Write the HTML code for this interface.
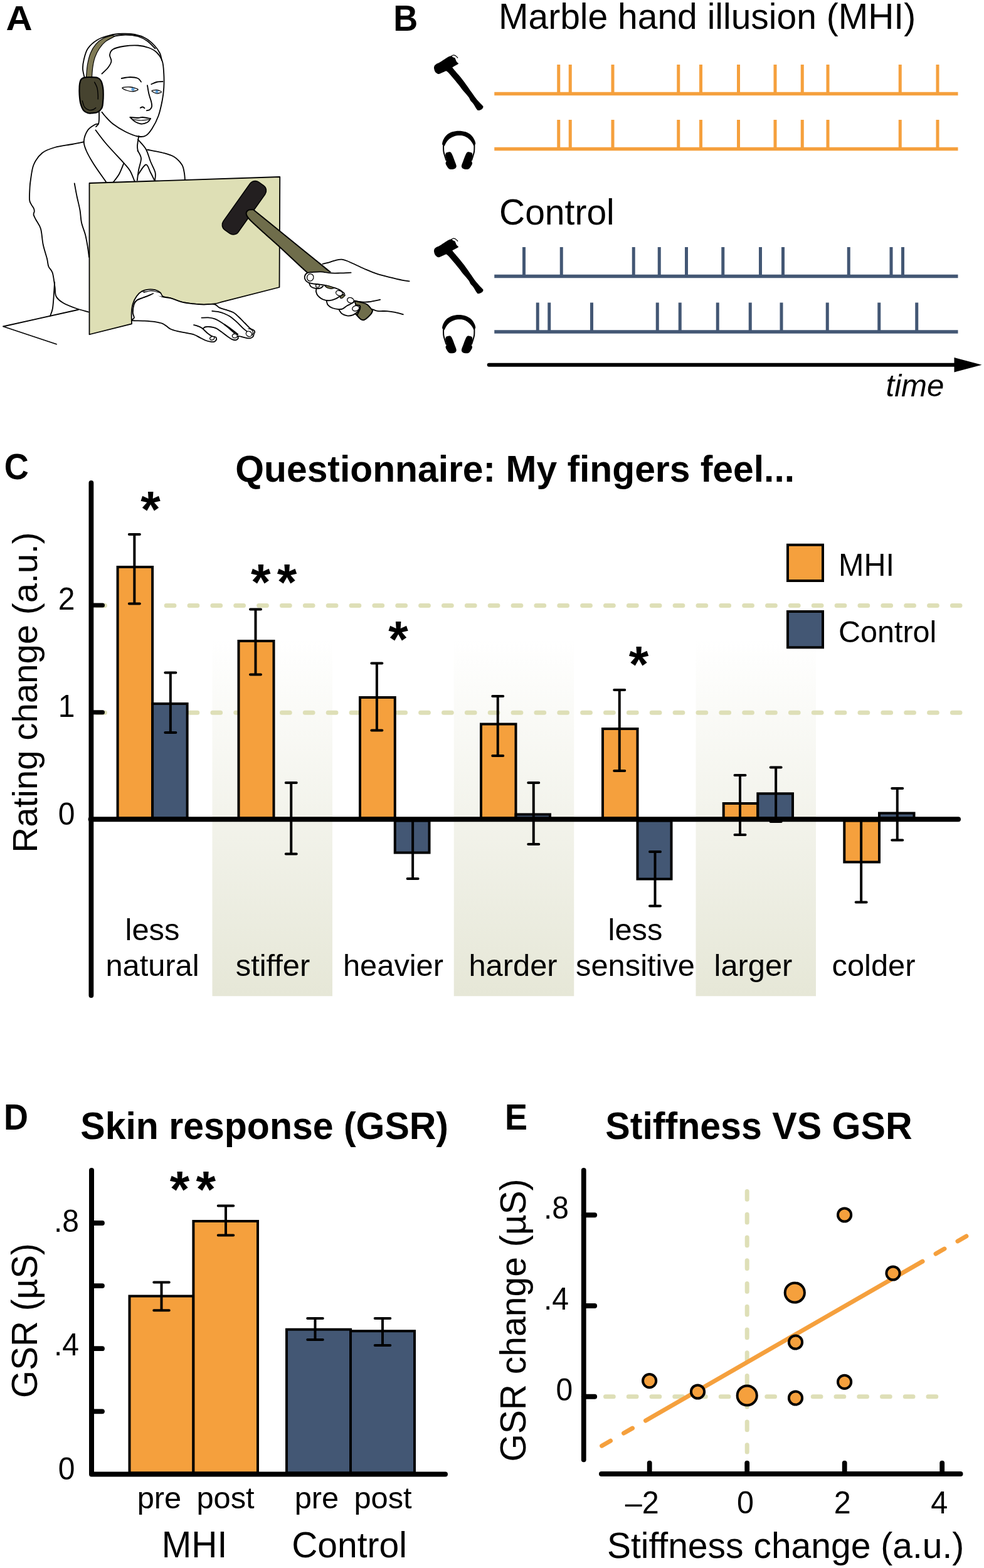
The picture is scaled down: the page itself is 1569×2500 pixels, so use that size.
<!DOCTYPE html>
<html lang="en">
<head>
<meta charset="utf-8">
<title>Marble hand illusion figure</title>
<style>
html,body{margin:0;padding:0;background:#fff;}
body{width:1569px;height:2500px;overflow:hidden;}
svg{display:block;font-family:'Liberation Sans', sans-serif;fill:#000;}
</style>
</head>
<body>
<svg width="1569" height="2500" viewBox="0 0 1569 2500">
<rect width="1569" height="2500" fill="#fff"/>
<text transform="translate(9.5 48.3) scale(1.08 1.03)" font-size="54" font-weight="bold" font-style="normal" text-anchor="start" >A</text>
<text transform="translate(627.2 48.7) scale(1 1.075)" font-size="54" font-weight="bold" font-style="normal" text-anchor="start" >B</text>
<text transform="translate(6.7 763.6) scale(1 1.05)" font-size="54" font-weight="bold" font-style="normal" text-anchor="start" >C</text>
<text transform="translate(6 1800.6) scale(1 1.075)" font-size="54" font-weight="bold" font-style="normal" text-anchor="start" >D</text>
<text transform="translate(805 1800.6) scale(1 1.075)" font-size="54" font-weight="bold" font-style="normal" text-anchor="start" >E</text>
<g id="panelA">
<path d="M125.00 493.75L5.00 520.50L90.00 548.75" fill="none" stroke="#000" stroke-width="1.8" stroke-linecap="round" stroke-linejoin="round"/>
<path d="M133.75 226.25C130.62 226.88 122.71 228.54 115.00 230.00C107.29 231.46 95.42 232.71 87.50 235.00C79.58 237.29 73.12 239.17 67.50 243.75C61.88 248.33 56.88 255.21 53.75 262.50C50.62 269.79 49.79 281.25 48.75 287.50C47.71 293.75 47.77 294.77 47.50 300.00C47.23 305.23 46.71 314.60 47.10 318.90C47.49 323.20 48.70 323.52 49.85 325.82C51.00 328.13 53.18 330.89 54.00 332.75C54.82 334.61 54.81 335.38 54.75 337.00C54.69 338.62 53.17 340.21 53.62 342.50C54.08 344.79 55.60 347.00 57.50 350.75C59.40 354.50 63.12 358.46 65.00 365.00C66.88 371.54 67.08 382.08 68.75 390.00C70.42 397.92 73.54 406.67 75.00 412.50C76.46 418.33 76.04 421.25 77.50 425.00C78.96 428.75 82.08 429.58 83.75 435.00C85.42 440.42 86.54 451.25 87.50 457.50C88.46 463.75 87.42 468.33 89.50 472.50C91.58 476.67 94.92 479.38 100.00 482.50C105.08 485.62 113.12 488.75 120.00 491.25C126.88 493.75 137.71 496.46 141.25 497.50" fill="none" stroke="#000" stroke-width="1.8" stroke-linecap="round" stroke-linejoin="round"/>
<path d="M87.00 450.00C86.75 454.17 86.04 467.92 85.50 475.00C84.96 482.08 84.67 487.71 83.75 492.50C82.83 497.29 80.62 501.88 80.00 503.75" fill="none" stroke="#000" stroke-width="1.8" stroke-linecap="round" stroke-linejoin="round"/>
<path d="M118.75 292.50C119.38 295.83 121.04 305.42 122.50 312.50C123.96 319.58 126.25 327.92 127.50 335.00C128.75 342.08 128.54 348.33 130.00 355.00C131.46 361.67 134.58 368.33 136.25 375.00C137.92 381.67 139.04 389.17 140.00 395.00C140.96 400.83 141.67 407.50 142.00 410.00" fill="none" stroke="#000" stroke-width="1.8" stroke-linecap="round" stroke-linejoin="round"/>
<path d="M235.00 238.75C239.17 239.58 252.92 241.88 260.00 243.75C267.08 245.62 272.50 246.88 277.50 250.00C282.50 253.12 287.29 258.33 290.00 262.50C292.71 266.67 292.92 270.83 293.75 275.00C294.58 279.17 294.79 285.42 295.00 287.50" fill="none" stroke="#000" stroke-width="1.8" stroke-linecap="round" stroke-linejoin="round"/>
<path d="M157.00 197.50C156.04 197.71 154.08 197.08 151.25 198.75C148.42 200.42 142.92 203.12 140.00 207.50C137.08 211.88 134.17 219.58 133.75 225.00C133.33 230.42 134.79 233.75 137.50 240.00C140.21 246.25 144.58 253.96 150.00 262.50C155.42 271.04 166.67 286.46 170.00 291.25" fill="none" stroke="#000" stroke-width="1.8" stroke-linecap="round" stroke-linejoin="round"/>
<path d="M152.50 207.50C155.42 211.25 162.50 221.25 170.00 230.00C177.50 238.75 191.25 252.92 197.50 260.00C203.75 267.08 204.58 267.50 207.50 272.50C210.42 277.50 213.75 287.08 215.00 290.00" fill="none" stroke="#000" stroke-width="1.8" stroke-linecap="round" stroke-linejoin="round"/>
<path d="M197.50 260.00C196.25 262.92 192.92 272.29 190.00 277.50C187.08 282.71 181.67 288.96 180.00 291.25" fill="none" stroke="#000" stroke-width="1.8" stroke-linecap="round" stroke-linejoin="round"/>
<path d="M220.00 222.50C222.08 225.00 229.17 231.67 232.50 237.50C235.83 243.33 237.50 251.25 240.00 257.50C242.50 263.75 246.33 270.00 247.50 275.00C248.67 280.00 247.08 285.42 247.00 287.50" fill="none" stroke="#000" stroke-width="1.8" stroke-linecap="round" stroke-linejoin="round"/>
<path d="M219.50 240.00C220.42 242.08 224.71 247.50 225.00 252.50C225.29 257.50 222.29 264.17 221.25 270.00C220.21 275.83 219.17 284.58 218.75 287.50" fill="none" stroke="#000" stroke-width="1.8" stroke-linecap="round" stroke-linejoin="round"/>
<path d="M220.00 278.75C222.08 276.04 229.17 263.12 232.50 262.50C235.83 261.88 237.71 270.83 240.00 275.00C242.29 279.17 245.21 285.42 246.25 287.50" fill="none" stroke="#000" stroke-width="1.8" stroke-linecap="round" stroke-linejoin="round"/>
<path d="M158.00 178.75C158.00 180.62 158.17 186.88 158.00 190.00C157.83 193.12 157.83 195.50 157.00 197.50C156.17 199.50 153.67 201.25 153.00 202.00" fill="none" stroke="#000" stroke-width="1.8" stroke-linecap="round" stroke-linejoin="round"/>
<path d="M221.25 217.00C220.88 219.58 219.21 228.46 219.00 232.50C218.79 236.54 219.83 239.79 220.00 241.25" fill="none" stroke="#000" stroke-width="1.8" stroke-linecap="round" stroke-linejoin="round"/>
<path d="M162.50 117.50C164.17 115.83 170.00 110.83 172.50 107.50C175.00 104.17 177.08 100.83 177.50 97.50C177.92 94.17 174.58 90.62 175.00 87.50C175.42 84.38 176.25 81.04 180.00 78.75C183.75 76.46 190.83 74.79 197.50 73.75C204.17 72.71 213.33 72.08 220.00 72.50C226.67 72.92 232.50 74.38 237.50 76.25C242.50 78.12 246.46 80.21 250.00 83.75C253.54 87.29 256.88 91.88 258.75 97.50C260.62 103.12 260.83 110.42 261.25 117.50C261.67 124.58 261.67 132.92 261.25 140.00C260.83 147.08 260.21 152.50 258.75 160.00C257.29 167.50 255.21 177.50 252.50 185.00C249.79 192.50 245.83 199.79 242.50 205.00C239.17 210.21 236.25 214.17 232.50 216.25C228.75 218.33 225.42 218.54 220.00 217.50C214.58 216.46 206.67 213.33 200.00 210.00C193.33 206.67 185.42 201.67 180.00 197.50C174.58 193.33 170.42 188.12 167.50 185.00C164.58 181.88 163.33 179.79 162.50 178.75" fill="none" stroke="#000" stroke-width="1.8" stroke-linecap="round" stroke-linejoin="round"/>
<path d="M135.00 125.00C134.50 122.50 132.21 115.00 132.00 110.00C131.79 105.00 132.42 100.42 133.75 95.00C135.08 89.58 136.46 82.71 140.00 77.50C143.54 72.29 149.17 67.29 155.00 63.75C160.83 60.21 168.33 57.92 175.00 56.25C181.67 54.58 188.33 53.96 195.00 53.75C201.67 53.54 208.75 53.75 215.00 55.00C221.25 56.25 227.29 58.33 232.50 61.25C237.71 64.17 242.50 68.54 246.25 72.50C250.00 76.46 253.04 81.04 255.00 85.00C256.96 88.96 257.50 94.38 258.00 96.25" fill="none" stroke="#000" stroke-width="1.8" stroke-linecap="round" stroke-linejoin="round"/>
<path d="M180.00 58.00C183.33 57.58 193.33 55.50 200.00 55.50C206.67 55.50 214.17 56.33 220.00 58.00C225.83 59.67 230.42 62.25 235.00 65.50C239.58 68.75 245.42 75.50 247.50 77.50" fill="none" stroke="#000" stroke-width="1.8" stroke-linecap="round" stroke-linejoin="round"/>
<path d="M137.50 123.00C137.85 119.58 138.42 108.92 139.57 102.50C140.73 96.08 142.25 89.78 144.45 84.45C146.65 79.12 149.30 74.49 152.78 70.55C156.25 66.61 160.88 63.18 165.28 60.83C169.68 58.47 176.86 57.14 179.18 56.40L183.32 57.77C180.78 59.21 172.22 63.11 168.05 66.40C163.88 69.69 161.10 73.33 158.32 77.50C155.55 81.67 153.13 86.54 151.40 91.40C149.67 96.26 148.74 101.41 147.93 106.67C147.11 111.94 146.76 120.28 146.53 123.00Z" fill="#7f7a55" stroke="#000" stroke-width="1.2" stroke-linecap="round" stroke-linejoin="round"/>
<path d="M129.85 126.10C131.01 124.99 132.06 124.11 134.72 123.60C137.39 123.09 142.35 122.98 145.82 123.05C149.30 123.12 153.00 123.05 155.55 124.03C158.10 125.00 159.66 126.24 161.10 128.90C162.54 131.56 163.57 136.30 164.18 140.00C164.78 143.70 164.72 147.40 164.72 151.10C164.72 154.80 164.55 158.75 164.18 162.22C163.80 165.70 163.94 169.17 162.50 171.95C161.06 174.73 158.10 177.51 155.55 178.90C153.00 180.29 149.77 180.05 147.22 180.28C144.68 180.50 142.59 180.97 140.28 180.28C137.96 179.58 135.29 178.65 133.32 176.10C131.36 173.55 129.58 169.17 128.47 165.00C127.37 160.83 126.97 155.73 126.67 151.10C126.38 146.47 126.49 140.70 126.67 137.22C126.86 133.75 127.25 132.13 127.78 130.28C128.30 128.42 128.69 127.21 129.85 126.10Z" fill="#46432f" stroke="#000" stroke-width="2.2" stroke-linecap="round" stroke-linejoin="round"/>
<path d="M150.70 130.97C151.39 132.48 153.92 136.65 154.85 140.00C155.78 143.35 156.02 148.09 156.25 151.10C156.48 154.11 156.25 156.89 156.25 158.05" fill="none" stroke="#000" stroke-width="1.4" stroke-linecap="round" stroke-linejoin="round"/>
<path d="M131.25 160.82C131.83 162.45 132.99 168.12 134.72 170.55C136.46 172.98 139.36 174.73 141.68 175.43C143.99 176.12 146.75 175.30 148.60 174.72C150.45 174.15 152.08 172.41 152.78 171.95" fill="none" stroke="#000" stroke-width="1.4" stroke-linecap="round" stroke-linejoin="round"/>
<path d="M193.75 125.00C196.04 124.67 203.12 123.00 207.50 123.00C211.88 123.00 217.08 123.75 220.00 125.00C222.92 126.25 224.17 129.58 225.00 130.50" fill="none" stroke="#000" stroke-width="1.8" stroke-linecap="round" stroke-linejoin="round"/>
<path d="M241.25 134.25C242.71 133.67 246.96 131.46 250.00 130.75C253.04 130.04 257.92 130.12 259.50 130.00" fill="none" stroke="#000" stroke-width="1.8" stroke-linecap="round" stroke-linejoin="round"/>
<path d="M195.00 140.00C195.83 139.08 203.33 138.33 207.50 138.75C211.67 139.17 219.17 141.33 220.00 142.50C220.83 143.67 215.42 145.46 212.50 145.75C209.58 146.04 205.42 145.21 202.50 144.25C199.58 143.29 194.17 140.92 195.00 140.00Z" fill="#fff" stroke="#000" stroke-width="1.3" stroke-linecap="round" stroke-linejoin="round"/>
<circle cx="212.0" cy="142.25" r="2.6" fill="#5b9bd5"/>
<path d="M242.00 145.00C242.00 144.08 247.42 143.25 250.00 143.50C252.58 143.75 257.50 145.58 257.50 146.50C257.50 147.42 252.58 149.25 250.00 149.00C247.42 148.75 242.00 145.92 242.00 145.00Z" fill="#fff" stroke="#000" stroke-width="1.3" stroke-linecap="round" stroke-linejoin="round"/>
<circle cx="250.0" cy="146.25" r="2.4" fill="#5b9bd5"/>
<path d="M235.00 136.25C235.42 138.54 236.46 145.62 237.50 150.00C238.54 154.38 240.50 159.17 241.25 162.50C242.00 165.83 242.42 167.92 242.00 170.00C241.58 172.08 240.12 173.96 238.75 175.00C237.38 176.04 234.58 176.04 233.75 176.25" fill="none" stroke="#000" stroke-width="1.8" stroke-linecap="round" stroke-linejoin="round"/>
<path d="M223.75 172.00C224.38 171.75 226.38 170.42 227.50 170.50C228.62 170.58 230.00 172.17 230.50 172.50" fill="none" stroke="#000" stroke-width="1.8" stroke-linecap="round" stroke-linejoin="round"/>
<path d="M207.50 187.00C209.58 187.17 216.67 188.00 220.00 188.00C223.33 188.00 224.17 186.79 227.50 187.00C230.83 187.21 237.92 188.88 240.00 189.25" fill="none" stroke="#000" stroke-width="1.8" stroke-linecap="round" stroke-linejoin="round"/>
<path d="M207.50 187.00C208.75 188.12 212.08 192.00 215.00 193.75C217.92 195.50 221.67 197.29 225.00 197.50C228.33 197.71 232.50 196.38 235.00 195.00C237.50 193.62 239.17 190.21 240.00 189.25" fill="none" stroke="#000" stroke-width="1.8" stroke-linecap="round" stroke-linejoin="round"/>
<path d="M212.50 190.50C214.58 190.75 220.83 192.00 225.00 192.00C229.17 192.00 235.42 190.75 237.50 190.50" fill="none" stroke="#000" stroke-width="1.2" stroke-linecap="round" stroke-linejoin="round"/>
<path d="M142.50 292.00L446.25 282.00L445.50 458.00L352.78 481.67C350.93 482.13 346.30 483.80 341.67 484.44C337.04 485.09 330.56 485.56 325.00 485.56C319.44 485.56 314.12 485.09 308.33 484.44C302.55 483.80 296.30 483.17 290.28 481.67C284.26 480.16 277.31 476.92 272.22 475.42C267.13 473.91 262.50 474.14 259.72 472.64C256.94 471.13 257.64 468.12 255.56 466.39C253.47 464.65 250.46 463.03 247.22 462.22C243.98 461.41 239.58 461.18 236.11 461.53C232.64 461.88 229.40 462.57 226.39 464.31C223.38 466.04 220.49 468.59 218.06 471.94C215.62 475.30 213.19 480.05 211.81 484.44C210.42 488.84 210.02 493.01 209.72 498.33C209.42 503.66 209.95 513.38 210.00 516.39L142.50 533.25Z" fill="#dedfb5" stroke="#000" stroke-width="1.8" stroke-linecap="round" stroke-linejoin="round"/>
<path d="M210.42 510.83C212.73 511.64 221.88 511.18 227.78 511.53C233.68 511.88 240.74 512.22 245.83 512.92C250.93 513.61 255.09 514.54 258.33 515.69C261.57 516.85 262.96 518.36 265.28 519.86C267.59 521.37 269.21 523.33 272.22 524.72C275.23 526.11 279.17 527.15 283.33 528.19C287.50 529.24 292.82 530.05 297.22 530.97C301.62 531.90 306.25 532.59 309.72 533.75C313.19 534.91 315.05 536.41 318.06 537.92C321.06 539.42 324.77 541.62 327.78 542.78C330.79 543.94 333.80 544.51 336.11 544.86C338.43 545.21 340.16 545.44 341.67 544.86C343.17 544.28 344.68 542.55 345.14 541.39C345.60 540.23 343.17 540.00 344.44 537.92C345.72 535.83 349.54 529.00 352.78 528.89C356.02 528.77 360.88 535.14 363.89 537.22C366.90 539.31 368.75 540.58 370.83 541.39C372.92 542.20 374.88 542.43 376.39 542.08C377.89 541.74 379.28 540.35 379.86 539.31C380.44 538.26 377.89 535.95 379.86 535.83C381.83 535.72 388.54 538.03 391.67 538.61C394.79 539.19 396.64 539.65 398.61 539.31C400.58 538.96 402.43 537.69 403.47 536.53C404.51 535.37 404.40 533.52 404.86 532.36C405.32 531.20 406.25 530.51 406.25 529.58C406.25 528.66 406.13 527.85 404.86 526.81C403.59 525.76 401.04 525.30 398.61 523.33C396.18 521.37 393.29 518.01 390.28 515.00C387.27 511.99 383.56 508.06 380.56 505.28C377.55 502.50 375.46 500.19 372.22 498.33C368.98 496.48 364.81 495.44 361.11 494.17C357.41 492.89 353.24 492.20 350.00 490.69C346.76 489.19 345.83 486.00 341.67 485.14C337.50 484.28 330.56 485.67 325.00 485.56C319.44 485.44 314.12 485.09 308.33 484.44C302.55 483.80 296.30 483.17 290.28 481.67C284.26 480.16 277.31 476.81 272.22 475.42C267.13 474.03 264.12 474.49 259.72 473.33C255.32 472.18 249.77 468.75 245.83 468.47C241.90 468.19 239.12 470.62 236.11 471.67C233.10 472.71 230.79 473.52 227.78 474.72C224.77 475.93 220.37 477.27 218.06 478.89C215.74 480.51 214.93 481.20 213.89 484.44C212.85 487.69 211.81 494.63 211.81 498.33C211.81 502.04 214.12 504.58 213.89 506.67C213.66 508.75 208.10 510.02 210.42 510.83Z" fill="#fff" stroke="none"/>
<path d="M352.78 528.89C354.63 530.28 360.88 535.14 363.89 537.22C366.90 539.31 368.75 540.58 370.83 541.39C372.92 542.20 374.88 542.43 376.39 542.08C377.89 541.74 379.28 540.35 379.86 539.31C380.44 538.26 377.89 535.95 379.86 535.83C381.83 535.72 388.54 538.03 391.67 538.61C394.79 539.19 396.64 539.65 398.61 539.31C400.58 538.96 402.43 537.69 403.47 536.53C404.51 535.37 404.40 533.52 404.86 532.36C405.32 531.20 406.25 530.51 406.25 529.58C406.25 528.66 406.13 527.85 404.86 526.81C403.59 525.76 401.04 525.30 398.61 523.33C396.18 521.37 393.29 518.01 390.28 515.00C387.27 511.99 383.56 508.06 380.56 505.28C377.55 502.50 375.46 500.19 372.22 498.33C368.98 496.48 364.81 495.44 361.11 494.17C357.41 492.89 353.24 492.20 350.00 490.69C346.76 489.19 345.83 486.00 341.67 485.14C337.50 484.28 330.56 485.67 325.00 485.56C319.44 485.44 314.12 485.09 308.33 484.44C302.55 483.80 296.30 483.17 290.28 481.67C284.26 480.16 277.31 476.81 272.22 475.42C267.13 474.03 264.12 474.49 259.72 473.33C255.32 472.18 249.77 468.75 245.83 468.47C241.90 468.19 239.12 470.62 236.11 471.67C233.10 472.71 230.79 473.52 227.78 474.72C224.77 475.93 220.37 477.27 218.06 478.89C215.74 480.51 214.93 481.20 213.89 484.44C212.85 487.69 211.81 494.63 211.81 498.33C211.81 502.04 214.12 504.58 213.89 506.67C213.66 508.75 208.10 510.02 210.42 510.83C212.73 511.64 221.88 511.18 227.78 511.53C233.68 511.88 240.74 512.22 245.83 512.92C250.93 513.61 255.09 514.54 258.33 515.69C261.57 516.85 262.96 518.36 265.28 519.86C267.59 521.37 269.21 523.33 272.22 524.72C275.23 526.11 279.17 527.15 283.33 528.19C287.50 529.24 292.82 530.05 297.22 530.97C301.62 531.90 306.25 532.59 309.72 533.75C313.19 534.91 315.05 536.41 318.06 537.92C321.06 539.42 324.77 541.62 327.78 542.78C330.79 543.94 333.80 544.51 336.11 544.86C338.43 545.21 340.16 545.44 341.67 544.86C343.17 544.28 344.68 542.55 345.14 541.39C345.60 540.23 344.56 538.50 344.44 537.92" fill="none" stroke="#000" stroke-width="1.8" stroke-linecap="round" stroke-linejoin="round"/>
<path d="M226.39 464.72C228.01 464.88 232.87 465.07 236.11 465.69C239.35 466.32 241.90 467.20 245.83 468.47C249.77 469.75 257.41 472.52 259.72 473.33" fill="none" stroke="#000" stroke-width="1.2" stroke-linecap="round" stroke-linejoin="round"/>
<path d="M229.17 466.39C231.02 465.93 237.04 463.84 240.28 463.61C243.52 463.38 246.06 464.42 248.61 465.00C251.16 465.58 253.82 465.74 255.56 467.08C257.29 468.43 258.45 472.06 259.03 473.06" fill="#fff" stroke="#000" stroke-width="1.2" stroke-linecap="round" stroke-linejoin="round"/>
<path d="M213.19 485.83C214.00 484.68 215.62 480.74 218.06 478.89C220.49 477.04 224.77 475.93 227.78 474.72C230.79 473.52 233.33 472.82 236.11 471.67C238.89 470.51 243.06 468.43 244.44 467.78" fill="none" stroke="#000" stroke-width="1.4" stroke-linecap="round" stroke-linejoin="round"/>
<path d="M309.03 518.06C310.07 518.36 313.08 518.98 315.28 519.86C317.48 520.74 319.68 521.48 322.22 523.33C324.77 525.19 328.01 528.89 330.56 530.97C333.10 533.06 335.42 534.79 337.50 535.83C339.58 536.88 342.13 536.99 343.06 537.22" fill="none" stroke="#000" stroke-width="1.8" stroke-linecap="round" stroke-linejoin="round"/>
<path d="M324.31 523.33C324.88 522.99 325.81 521.60 327.78 521.25C329.75 520.90 333.33 520.90 336.11 521.25C338.89 521.60 341.67 522.06 344.44 523.33C347.22 524.61 351.39 527.96 352.78 528.89" fill="none" stroke="#000" stroke-width="1.8" stroke-linecap="round" stroke-linejoin="round"/>
<path d="M321.53 506.67C323.26 506.62 328.59 506.16 331.94 506.39C335.30 506.62 338.66 507.08 341.67 508.06C344.68 509.03 347.22 510.60 350.00 512.22C352.78 513.84 355.56 515.69 358.33 517.78C361.11 519.86 364.12 522.52 366.67 524.72C369.21 526.92 372.45 529.93 373.61 530.97" fill="none" stroke="#000" stroke-width="1.8" stroke-linecap="round" stroke-linejoin="round"/>
<path d="M358.33 517.78C359.72 518.70 363.19 520.79 366.67 523.33C370.14 525.88 377.08 531.44 379.17 533.06" fill="none" stroke="#000" stroke-width="2.2" stroke-linecap="round" stroke-linejoin="round"/>
<path d="M338.19 495.97C339.70 496.13 344.10 496.32 347.22 496.94C350.35 497.57 353.70 498.45 356.94 499.72C360.19 501.00 363.19 502.27 366.67 504.58C370.14 506.90 374.31 510.49 377.78 513.61C381.25 516.74 384.72 520.79 387.50 523.33C390.28 525.88 393.29 527.96 394.44 528.89" fill="none" stroke="#000" stroke-width="1.8" stroke-linecap="round" stroke-linejoin="round"/>
<ellipse cx="338.19" cy="539.31" rx="3.6" ry="2.7" fill="#fff" stroke="#000" stroke-width="1.3" transform="rotate(-20 338.19 539.31)"/>
<ellipse cx="374.31" cy="535.56" rx="4" ry="3.3" fill="#fff" stroke="#000" stroke-width="1.3"/>
<ellipse cx="396.94" cy="532.36" rx="4.8" ry="4" fill="#fff" stroke="#000" stroke-width="1.3" transform="rotate(30 396.94 532.36)"/>
<path d="M395.83 524.03C396.64 524.26 399.42 524.49 400.69 525.42C401.97 526.34 403.24 528.08 403.47 529.58C403.70 531.09 402.31 533.63 402.08 534.44" fill="none" stroke="#000" stroke-width="1.2" stroke-linecap="round" stroke-linejoin="round"/>
<rect x="-46.75" y="-14.75" width="93.5" height="29.5" rx="10" ry="10" fill="#231f20" stroke="#000" stroke-width="1.5" transform="translate(389.40 331.25) rotate(125.39)"/>
<path d="M403.90 334.20C409.92 339.08 427.32 353.20 440.00 363.50C452.68 373.80 465.42 384.15 480.00 396.00C494.58 407.85 514.17 423.43 527.50 434.60C540.83 445.77 550.37 454.53 560.00 463.00C569.63 471.47 579.88 480.40 585.30 485.40C590.72 490.40 591.30 491.73 592.50 493.00L593.89 495.83C593.38 496.76 592.96 499.07 590.83 501.39C588.70 503.70 583.66 508.45 581.11 509.72C578.56 511.00 577.52 510.19 575.56 509.03C573.59 507.87 570.35 503.82 569.31 502.78L569.30 502.80C562.75 497.17 543.22 480.37 530.00 469.00C516.78 457.63 503.33 446.52 490.00 434.60C476.67 422.68 461.67 408.18 450.00 397.50C438.33 386.82 428.33 378.08 420.00 370.50C411.67 362.92 404.30 356.25 400.00 352.00C395.70 347.75 395.40 347.17 394.20 345.00C393.00 342.83 392.33 340.73 392.80 339.00C393.27 337.27 395.15 335.40 397.00 334.60C398.85 333.80 402.75 334.27 403.90 334.20Z" fill="#6f6d4b" stroke="#000" stroke-width="2" stroke-linecap="round" stroke-linejoin="round"/>
<path d="M529.72 434.17C526.71 434.03 516.99 433.36 511.67 433.33C506.34 433.31 501.48 433.68 497.78 434.03C494.07 434.38 491.41 434.38 489.44 435.42C487.48 436.46 486.44 438.54 485.97 440.28C485.51 442.01 485.51 443.98 486.67 445.83C487.82 447.69 491.41 449.54 492.92 451.39C494.42 453.24 494.19 455.56 495.69 456.94C497.20 458.33 500.44 459.26 501.94 459.72C503.45 460.19 504.38 458.80 504.72 459.72C505.07 460.65 503.56 463.19 504.03 465.28C504.49 467.36 505.53 470.14 507.50 472.22C509.47 474.31 513.63 476.50 515.83 477.78C518.03 479.05 519.54 478.47 520.69 479.86C521.85 481.25 521.27 484.26 522.78 486.11C524.28 487.96 526.71 489.58 529.72 490.97C532.73 492.36 538.29 492.94 540.83 494.44C543.38 495.95 542.92 498.50 545.00 500.00C547.08 501.50 550.32 503.12 553.33 503.47C556.34 503.82 560.28 503.12 563.06 502.08C565.83 501.04 568.15 498.96 570.00 497.22C571.85 495.49 573.47 493.06 574.17 491.67C574.86 490.28 572.31 490.05 574.17 488.89C576.02 487.73 582.04 484.03 585.28 484.72C588.52 485.42 590.83 491.20 593.61 493.06C596.39 494.91 598.01 495.32 601.94 495.83C605.88 496.34 612.59 495.76 617.22 496.11C621.85 496.46 625.44 497.04 629.72 497.92C634.00 498.80 640.72 500.81 642.92 501.39L652.64 448.33C650.67 448.03 645.81 447.52 640.83 446.53C635.86 445.53 629.26 443.98 622.78 442.36C616.30 440.74 608.43 438.89 601.94 436.81C595.46 434.72 589.68 432.29 583.89 429.86C578.10 427.43 572.31 424.54 567.22 422.22C562.13 419.91 557.04 417.41 553.33 415.97C549.63 414.54 547.78 413.84 545.00 413.61C542.22 413.38 539.91 413.84 536.67 414.58C533.43 415.32 529.26 417.01 525.56 418.06C521.85 419.10 516.30 420.37 514.44 420.83Z" fill="#fff" stroke="none"/>
<path d="M565.56 479.44C567.22 479.91 572.27 481.23 575.56 482.22C578.84 483.22 582.27 483.38 585.28 485.42C588.29 487.45 592.22 492.94 593.61 494.44L593.89 495.83C593.38 496.76 592.96 499.07 590.83 501.39C588.70 503.70 583.66 508.45 581.11 509.72C578.56 511.00 577.52 510.19 575.56 509.03C573.59 507.87 570.35 503.82 569.31 502.78L574.17 492.36C574.12 491.55 575.05 488.50 573.89 487.50C572.73 486.50 568.33 486.57 567.22 486.39Z" fill="#6f6d4b" stroke="#000" stroke-width="1.8" stroke-linecap="round" stroke-linejoin="round"/>
<path d="M514.44 420.83C516.30 420.37 521.85 419.10 525.56 418.06C529.26 417.01 533.43 415.32 536.67 414.58C539.91 413.84 542.22 413.38 545.00 413.61C547.78 413.84 549.63 414.54 553.33 415.97C557.04 417.41 562.13 419.91 567.22 422.22C572.31 424.54 578.10 427.43 583.89 429.86C589.68 432.29 595.46 434.72 601.94 436.81C608.43 438.89 616.30 440.74 622.78 442.36C629.26 443.98 635.86 445.53 640.83 446.53C645.81 447.52 650.67 448.03 652.64 448.33" fill="none" stroke="#000" stroke-width="1.8" stroke-linecap="round" stroke-linejoin="round"/>
<path d="M559.58 434.72C556.69 434.84 547.43 435.30 542.22 435.42C537.01 435.53 533.43 435.76 528.33 435.42C523.24 435.07 516.76 433.56 511.67 433.33C506.57 433.10 501.48 433.68 497.78 434.03C494.07 434.38 491.41 434.38 489.44 435.42C487.48 436.46 486.44 438.54 485.97 440.28C485.51 442.01 485.86 444.21 486.67 445.83C487.48 447.45 488.98 448.96 490.83 450.00C492.69 451.04 494.77 451.50 497.78 452.08C500.79 452.66 505.42 453.01 508.89 453.47C512.36 453.94 514.91 454.05 518.61 454.86C522.31 455.67 527.18 457.06 531.11 458.33C535.05 459.61 539.21 460.88 542.22 462.50C545.23 464.12 548.01 467.13 549.17 468.06" fill="none" stroke="#000" stroke-width="1.8" stroke-linecap="round" stroke-linejoin="round"/>
<ellipse cx="494.72" cy="442.36" rx="5.2" ry="5.8" fill="#fff" stroke="#000" stroke-width="1.3" transform="rotate(15 494.72 442.36)"/>
<path d="M492.92 451.39C493.38 452.31 494.19 455.56 495.69 456.94C497.20 458.33 499.51 459.26 501.94 459.72C504.38 460.19 508.08 460.30 510.28 459.72C512.48 459.14 514.33 456.83 515.14 456.25" fill="none" stroke="#000" stroke-width="1.8" stroke-linecap="round" stroke-linejoin="round"/>
<ellipse cx="506.39" cy="455.83" rx="3" ry="2.4" fill="#fff" stroke="#000" stroke-width="1.2"/>
<path d="M504.72 459.72C504.61 460.65 503.56 463.19 504.03 465.28C504.49 467.36 505.53 470.14 507.50 472.22C509.47 474.31 512.82 476.62 515.83 477.78C518.84 478.94 522.31 479.40 525.56 479.17C528.80 478.94 532.50 477.55 535.28 476.39C538.06 475.23 540.14 473.38 542.22 472.22C544.31 471.06 546.85 469.91 547.78 469.44" fill="none" stroke="#000" stroke-width="1.8" stroke-linecap="round" stroke-linejoin="round"/>
<ellipse cx="540.83" cy="467.36" rx="5.4" ry="3.9" fill="#fff" stroke="#000" stroke-width="1.3" transform="rotate(20 540.83 467.36)"/>
<path d="M520.69 479.86C521.04 480.90 521.27 484.26 522.78 486.11C524.28 487.96 526.94 489.81 529.72 490.97C532.50 492.13 536.67 492.82 539.44 493.06C542.22 493.29 544.07 493.29 546.39 492.36C548.70 491.44 550.79 489.00 553.33 487.50C555.88 486.00 559.58 484.61 561.67 483.33C563.75 482.06 565.14 480.44 565.83 479.86" fill="none" stroke="#000" stroke-width="1.8" stroke-linecap="round" stroke-linejoin="round"/>
<ellipse cx="558.89" cy="478.75" rx="5.4" ry="4.2" fill="#fff" stroke="#000" stroke-width="1.3" transform="rotate(20 558.89 478.75)"/>
<path d="M540.83 494.44C541.53 495.37 542.92 498.50 545.00 500.00C547.08 501.50 550.32 503.12 553.33 503.47C556.34 503.82 560.28 503.12 563.06 502.08C565.83 501.04 568.15 498.96 570.00 497.22C571.85 495.49 573.59 493.29 574.17 491.67C574.75 490.05 573.59 488.19 573.47 487.50" fill="none" stroke="#000" stroke-width="1.8" stroke-linecap="round" stroke-linejoin="round"/>
<ellipse cx="567.22" cy="491.67" rx="5.6" ry="4.2" fill="#fff" stroke="#000" stroke-width="1.3" transform="rotate(-15 567.22 491.67)"/>
<path d="M565.83 479.86C567.45 480.09 571.85 481.02 575.56 481.25C579.26 481.48 582.96 481.83 588.06 481.25C593.15 480.67 603.10 478.36 606.11 477.78" fill="none" stroke="#000" stroke-width="1.8" stroke-linecap="round" stroke-linejoin="round"/>
<path d="M593.61 493.06C595.00 493.52 598.01 495.32 601.94 495.83C605.88 496.34 612.59 495.76 617.22 496.11C621.85 496.46 625.44 497.04 629.72 497.92C634.00 498.80 640.72 500.81 642.92 501.39" fill="none" stroke="#000" stroke-width="1.8" stroke-linecap="round" stroke-linejoin="round"/>
<path d="M517.92 455.28C518.50 454.81 523.24 455.62 525.56 456.25C527.87 456.88 531.34 458.33 531.81 459.03C532.27 459.72 529.95 460.42 528.33 460.42C526.71 460.42 523.82 459.88 522.08 459.03C520.35 458.17 517.34 455.74 517.92 455.28Z" fill="#6f6d4b" stroke="#000" stroke-width="1.2" stroke-linecap="round" stroke-linejoin="round"/>
<path d="M542.22 473.61C542.45 472.75 544.35 471.13 545.69 470.56C547.04 469.98 549.93 469.63 550.28 470.14C550.62 470.65 548.77 472.69 547.78 473.61C546.78 474.54 545.23 475.69 544.31 475.69C543.38 475.69 541.99 474.47 542.22 473.61Z" fill="#6f6d4b" stroke="#000" stroke-width="1.2" stroke-linecap="round" stroke-linejoin="round"/>
</g>
<text transform="translate(795 46) scale(1 1.02)" font-size="57" font-weight="normal" font-style="normal" text-anchor="start" >Marble hand illusion (MHI)</text>
<text x="796" y="357.5" font-size="57" font-weight="normal" font-style="normal" text-anchor="start" >Control</text>
<path d="M788.25 149.5H1527.5" stroke="#f5a03d" stroke-width="5.5" fill="none"/>
<path d="M890.75 149.5V103.0M909.25 149.5V103.0M977 149.5V103.0M1081.75 149.5V103.0M1117.5 149.5V103.0M1177.5 149.5V103.0M1236 149.5V103.0M1279.25 149.5V103.0M1320 149.5V103.0M1435.25 149.5V103.0M1495 149.5V103.0" stroke="#f5a03d" stroke-width="5" fill="none"/>
<path d="M788.25 237.5H1527.5" stroke="#f5a03d" stroke-width="5.5" fill="none"/>
<path d="M890.75 237.5V191.0M909.25 237.5V191.0M977 237.5V191.0M1081.75 237.5V191.0M1117.5 237.5V191.0M1177.5 237.5V191.0M1236 237.5V191.0M1279.25 237.5V191.0M1320 237.5V191.0M1435.25 237.5V191.0M1495 237.5V191.0" stroke="#f5a03d" stroke-width="5" fill="none"/>
<path d="M788.25 440.5H1527.5" stroke="#435774" stroke-width="5.5" fill="none"/>
<path d="M835.5 440.5V394.0M895.25 440.5V394.0M1010.25 440.5V394.0M1051.25 440.5V394.0M1094.5 440.5V394.0M1152.75 440.5V394.0M1212.5 440.5V394.0M1248.5 440.5V394.0M1353.25 440.5V394.0M1421 440.5V394.0M1439.5 440.5V394.0" stroke="#435774" stroke-width="5" fill="none"/>
<path d="M788.25 529H1527.5" stroke="#435774" stroke-width="5.5" fill="none"/>
<path d="M857.25 529V482.5M875.75 529V482.5M943.5 529V482.5M1048.25 529V482.5M1084.25 529V482.5M1144.25 529V482.5M1196.25 529V482.5M1246 529V482.5M1319.25 529V482.5M1401.75 529V482.5M1461.75 529V482.5" stroke="#435774" stroke-width="5" fill="none"/>
<path d="M779.6 581.75H1525" stroke="#000" stroke-width="5.8" stroke-linecap="round" fill="none"/>
<path d="M1521.5 570L1565.5 581.75L1521.5 593.5Z" fill="#000"/>
<text x="1412.5" y="632.3" font-size="49.2" font-weight="normal" font-style="italic" text-anchor="start" >time</text>
<path d="M692.00 108.56C691.88 107.10 692.19 105.95 692.73 104.92C693.28 103.89 693.76 103.35 695.28 102.38C696.79 101.41 698.67 100.98 701.83 99.10C704.98 97.22 711.28 92.67 714.19 91.10C717.10 89.52 717.71 89.52 719.29 89.64C720.86 89.76 722.62 91.34 723.65 91.83C724.68 92.31 724.74 91.46 725.47 92.55C726.20 93.64 727.11 96.92 728.02 98.37C728.93 99.83 730.69 100.56 730.93 101.28C731.17 102.01 730.81 101.89 729.47 102.74C728.14 103.59 724.16 105.43 722.92 106.38C721.69 107.32 720.67 106.27 722.05 108.41C723.43 110.56 728.24 115.63 731.22 119.25C734.20 122.88 736.36 125.34 739.95 130.17C743.54 134.99 749.31 143.42 752.75 148.21C756.20 153.00 757.85 155.55 760.61 158.91C763.38 162.26 767.70 166.39 769.34 168.36C770.98 170.34 770.59 169.84 770.43 170.76C770.28 171.69 769.64 173.01 768.40 173.89C767.15 174.78 764.33 176.05 762.94 176.07C761.54 176.10 761.44 175.83 760.03 174.04C758.62 172.24 756.15 167.61 754.50 165.31C752.85 163.00 751.32 161.94 750.13 160.21C748.95 158.49 749.29 157.55 747.37 154.98C745.45 152.41 741.31 148.06 738.64 144.79C735.97 141.52 734.35 139.04 731.36 135.33C728.38 131.62 723.87 126.12 720.74 122.53C717.61 118.94 714.78 115.10 712.59 113.80C710.41 112.50 709.80 114.04 707.65 114.74C705.49 115.45 701.58 117.71 699.64 118.02C697.70 118.32 697.04 117.29 696.01 116.56C694.98 115.83 694.13 114.99 693.46 113.65C692.79 112.32 692.13 110.01 692.00 108.56Z" fill="#000"/>
<path d="M719.29 89.79C719.89 89.49 721.71 88.09 722.92 87.97C724.14 87.85 725.43 88.38 726.56 89.06C727.69 89.74 729.17 91.55 729.69 92.04" fill="none" stroke="#000" stroke-width="1.3" stroke-linecap="round"/>
<path d="M705.10 229.29C705.20 227.81 705.77 225.04 706.92 222.74C708.07 220.44 709.71 217.53 712.01 215.46C714.32 213.40 717.47 211.49 720.74 210.37C724.02 209.26 728.02 208.77 731.66 208.77C735.29 208.77 739.29 209.26 742.57 210.37C745.84 211.49 748.99 213.40 751.30 215.46C753.60 217.53 755.24 220.56 756.39 222.74C757.54 224.92 758.09 227.20 758.21 228.56C758.33 229.92 757.54 230.22 757.12 230.89C756.69 231.55 756.51 233.31 755.66 232.56C754.82 231.81 753.72 228.50 752.03 226.38C750.33 224.25 747.78 221.47 745.48 219.83C743.17 218.19 740.51 217.19 738.20 216.56C735.90 215.92 733.84 215.99 731.66 216.05C729.47 216.11 727.41 216.17 725.11 216.92C722.80 217.67 720.01 218.98 717.83 220.56C715.65 222.13 713.59 224.32 712.01 226.38C710.44 228.44 709.32 232.05 708.37 232.92C707.43 233.80 706.88 232.22 706.34 231.62C705.79 231.01 705.00 230.77 705.10 229.29Z" fill="#000"/>
<path d="M711.28 243.84C712.07 242.87 713.71 242.56 714.92 242.38C716.13 242.20 717.47 241.90 718.56 242.75C719.65 243.60 720.38 245.11 721.47 247.48C722.56 249.84 724.08 254.14 725.11 256.93C726.14 259.72 727.41 262.39 727.65 264.21C727.90 266.03 727.35 266.94 726.56 267.85C725.77 268.76 724.50 269.36 722.92 269.67C721.35 269.97 718.68 270.21 717.10 269.67C715.53 269.12 714.56 267.91 713.47 266.39C712.38 264.88 710.80 262.39 710.56 260.57C710.31 258.75 712.07 257.54 712.01 255.48C711.95 253.42 710.31 250.14 710.19 248.20C710.07 246.26 710.50 244.81 711.28 243.84Z" fill="#000"/>
<path d="M752.32 243.84C751.53 242.87 749.89 242.56 748.68 242.38C747.47 242.20 746.13 241.90 745.04 242.75C743.95 243.60 743.22 245.11 742.13 247.48C741.04 249.84 739.52 254.14 738.49 256.93C737.46 259.72 736.19 262.39 735.95 264.21C735.71 266.03 736.25 266.94 737.04 267.85C737.83 268.76 739.10 269.36 740.68 269.67C742.25 269.97 744.92 270.21 746.50 269.67C748.07 269.12 749.04 267.91 750.13 266.39C751.23 264.88 752.80 262.39 753.04 260.57C753.29 258.75 751.53 257.54 751.59 255.48C751.65 253.42 753.29 250.14 753.41 248.20C753.53 246.26 753.11 244.81 752.32 243.84Z" fill="#000"/>
<path d="M707.06 230.74C707.10 232.44 706.94 238.02 707.28 240.93C707.62 243.84 708.41 245.78 709.10 248.20C709.79 250.63 711.04 254.27 711.43 255.48M756.39 230.74C756.36 232.44 756.51 238.02 756.17 240.93C755.83 243.84 755.05 245.78 754.35 248.20C753.66 250.63 752.41 254.27 752.03 255.48" fill="none" stroke="#000" stroke-width="2" stroke-linecap="round"/>
<path d="M692.00 400.76C691.88 399.30 692.19 398.15 692.73 397.12C693.28 396.09 693.76 395.55 695.28 394.58C696.79 393.61 698.67 393.18 701.83 391.30C704.98 389.42 711.28 384.87 714.19 383.30C717.10 381.72 717.71 381.72 719.29 381.84C720.86 381.96 722.62 383.54 723.65 384.03C724.68 384.51 724.74 383.66 725.47 384.75C726.20 385.84 727.11 389.12 728.02 390.57C728.93 392.03 730.69 392.76 730.93 393.48C731.17 394.21 730.81 394.09 729.47 394.94C728.14 395.79 724.16 397.63 722.92 398.58C721.69 399.52 720.67 398.47 722.05 400.61C723.43 402.76 728.24 407.83 731.22 411.45C734.20 415.08 736.36 417.54 739.95 422.37C743.54 427.19 749.31 435.62 752.75 440.41C756.20 445.20 757.85 447.75 760.61 451.11C763.38 454.46 767.70 458.59 769.34 460.56C770.98 462.54 770.59 462.04 770.43 462.96C770.28 463.89 769.64 465.21 768.40 466.09C767.15 466.98 764.33 468.25 762.94 468.27C761.54 468.30 761.44 468.03 760.03 466.24C758.62 464.44 756.15 459.81 754.50 457.51C752.85 455.20 751.32 454.14 750.13 452.41C748.95 450.69 749.29 449.75 747.37 447.18C745.45 444.61 741.31 440.26 738.64 436.99C735.97 433.72 734.35 431.24 731.36 427.53C728.38 423.82 723.87 418.32 720.74 414.73C717.61 411.14 714.78 407.30 712.59 406.00C710.41 404.70 709.80 406.24 707.65 406.94C705.49 407.65 701.58 409.91 699.64 410.22C697.70 410.52 697.04 409.49 696.01 408.76C694.98 408.03 694.13 407.19 693.46 405.85C692.79 404.52 692.13 402.21 692.00 400.76Z" fill="#000"/>
<path d="M719.29 381.99C719.89 381.69 721.71 380.29 722.92 380.17C724.14 380.05 725.43 380.58 726.56 381.26C727.69 381.94 729.17 383.75 729.69 384.24" fill="none" stroke="#000" stroke-width="1.3" stroke-linecap="round"/>
<path d="M705.10 522.59C705.20 521.11 705.77 518.34 706.92 516.04C708.07 513.74 709.71 510.83 712.01 508.76C714.32 506.70 717.47 504.79 720.74 503.67C724.02 502.56 728.02 502.07 731.66 502.07C735.29 502.07 739.29 502.56 742.57 503.67C745.84 504.79 748.99 506.70 751.30 508.76C753.60 510.83 755.24 513.86 756.39 516.04C757.54 518.22 758.09 520.50 758.21 521.86C758.33 523.22 757.54 523.52 757.12 524.19C756.69 524.85 756.51 526.61 755.66 525.86C754.82 525.11 753.72 521.80 752.03 519.68C750.33 517.55 747.78 514.77 745.48 513.13C743.17 511.49 740.51 510.49 738.20 509.86C735.90 509.22 733.84 509.29 731.66 509.35C729.47 509.41 727.41 509.47 725.11 510.22C722.80 510.97 720.01 512.28 717.83 513.86C715.65 515.43 713.59 517.62 712.01 519.68C710.44 521.74 709.32 525.35 708.37 526.22C707.43 527.10 706.88 525.52 706.34 524.92C705.79 524.31 705.00 524.07 705.10 522.59Z" fill="#000"/>
<path d="M711.28 537.14C712.07 536.17 713.71 535.86 714.92 535.68C716.13 535.50 717.47 535.20 718.56 536.05C719.65 536.90 720.38 538.41 721.47 540.78C722.56 543.14 724.08 547.44 725.11 550.23C726.14 553.02 727.41 555.69 727.65 557.51C727.90 559.33 727.35 560.24 726.56 561.15C725.77 562.06 724.50 562.66 722.92 562.97C721.35 563.27 718.68 563.51 717.10 562.97C715.53 562.42 714.56 561.21 713.47 559.69C712.38 558.18 710.80 555.69 710.56 553.87C710.31 552.05 712.07 550.84 712.01 548.78C711.95 546.72 710.31 543.44 710.19 541.50C710.07 539.56 710.50 538.11 711.28 537.14Z" fill="#000"/>
<path d="M752.32 537.14C751.53 536.17 749.89 535.86 748.68 535.68C747.47 535.50 746.13 535.20 745.04 536.05C743.95 536.90 743.22 538.41 742.13 540.78C741.04 543.14 739.52 547.44 738.49 550.23C737.46 553.02 736.19 555.69 735.95 557.51C735.71 559.33 736.25 560.24 737.04 561.15C737.83 562.06 739.10 562.66 740.68 562.97C742.25 563.27 744.92 563.51 746.50 562.97C748.07 562.42 749.04 561.21 750.13 559.69C751.23 558.18 752.80 555.69 753.04 553.87C753.29 552.05 751.53 550.84 751.59 548.78C751.65 546.72 753.29 543.44 753.41 541.50C753.53 539.56 753.11 538.11 752.32 537.14Z" fill="#000"/>
<path d="M707.06 524.04C707.10 525.74 706.94 531.32 707.28 534.23C707.62 537.14 708.41 539.08 709.10 541.50C709.79 543.93 711.04 547.57 711.43 548.78M756.39 524.04C756.36 525.74 756.51 531.32 756.17 534.23C755.83 537.14 755.05 539.08 754.35 541.50C753.66 543.93 752.41 547.57 752.03 548.78" fill="none" stroke="#000" stroke-width="2" stroke-linecap="round"/>
<text transform="translate(375.3 767.5) scale(1 1.02)" font-size="58.8" font-weight="bold" font-style="normal" text-anchor="start" >Questionnaire: My fingers feel...</text>
<defs><linearGradient id="band" x1="0" y1="0" x2="0" y2="1"><stop offset="0" stop-color="#ffffff"/><stop offset="1" stop-color="#e6e7d7"/></linearGradient></defs>
<rect x="338.5" y="1020" width="191.5" height="568.2" fill="url(#band)"/>
<rect x="723.75" y="1020" width="191.5" height="568.2" fill="url(#band)"/>
<rect x="1109.5" y="1020" width="191.5" height="568.2" fill="url(#band)"/>
<path d="M154.6 1136.25H1531" stroke="#dedfb7" stroke-width="7" stroke-linecap="round" stroke-dasharray="12.75 24.11" fill="none"/>
<path d="M154.6 965.5H1531" stroke="#dedfb7" stroke-width="7" stroke-linecap="round" stroke-dasharray="12.75 24.11" fill="none"/>
<rect x="187.6" y="904.0" width="55.5" height="400.5" fill="#f5a03d" stroke="#000" stroke-width="4"/>
<rect x="243.1" y="1122.0" width="55.50000000000003" height="182.5" fill="#435774" stroke="#000" stroke-width="4"/>
<rect x="380.5" y="1022.0" width="56.0" height="282.5" fill="#f5a03d" stroke="#000" stroke-width="4"/>
<rect x="574.0" y="1112.0" width="55.75" height="192.5" fill="#f5a03d" stroke="#000" stroke-width="4"/>
<rect x="629.75" y="1308.5" width="54.75" height="51.0" fill="#435774" stroke="#000" stroke-width="4"/>
<rect x="767.0" y="1154.5" width="55.5" height="150.0" fill="#f5a03d" stroke="#000" stroke-width="4"/>
<rect x="822.5" y="1298.5" width="54.5" height="6.0" fill="#435774" stroke="#000" stroke-width="4"/>
<rect x="961.0" y="1162.0" width="55.5" height="142.5" fill="#f5a03d" stroke="#000" stroke-width="4"/>
<rect x="1016.5" y="1308.5" width="54.0" height="93.0" fill="#435774" stroke="#000" stroke-width="4"/>
<rect x="1153.7" y="1281.0" width="54.59999999999991" height="23.5" fill="#f5a03d" stroke="#000" stroke-width="4"/>
<rect x="1208.3" y="1265.3" width="55.700000000000045" height="39.200000000000045" fill="#435774" stroke="#000" stroke-width="4"/>
<rect x="1346.3" y="1308.5" width="55.700000000000045" height="66.0" fill="#f5a03d" stroke="#000" stroke-width="4"/>
<rect x="1402.0" y="1296.5" width="55.5" height="8.0" fill="#435774" stroke="#000" stroke-width="4"/>
<path d="M214.35 852V962.5M205.85 852h17M205.85 962.5h17" stroke="#000" stroke-width="4" stroke-linecap="round" fill="none"/>
<path d="M271.85 1072.5V1168M263.35 1072.5h17M263.35 1168h17" stroke="#000" stroke-width="4" stroke-linecap="round" fill="none"/>
<path d="M407.5 971.5V1075.5M399.0 971.5h17M399.0 1075.5h17" stroke="#000" stroke-width="4" stroke-linecap="round" fill="none"/>
<path d="M464.25 1248V1361.5M455.75 1248h17M455.75 1361.5h17" stroke="#000" stroke-width="4" stroke-linecap="round" fill="none"/>
<path d="M600.875 1057.5V1164.5M592.375 1057.5h17M592.375 1164.5h17" stroke="#000" stroke-width="4" stroke-linecap="round" fill="none"/>
<path d="M658.125 1308V1401M649.625 1308h17M649.625 1401h17" stroke="#000" stroke-width="4" stroke-linecap="round" fill="none"/>
<path d="M793.75 1110V1205M785.25 1110h17M785.25 1205h17" stroke="#000" stroke-width="4" stroke-linecap="round" fill="none"/>
<path d="M850.75 1248V1346M842.25 1248h17M842.25 1346h17" stroke="#000" stroke-width="4" stroke-linecap="round" fill="none"/>
<path d="M987.75 1100V1229M979.25 1100h17M979.25 1229h17" stroke="#000" stroke-width="4" stroke-linecap="round" fill="none"/>
<path d="M1044.5 1358V1444.5M1036.0 1358h17M1036.0 1444.5h17" stroke="#000" stroke-width="4" stroke-linecap="round" fill="none"/>
<path d="M1180.0 1236V1331M1171.5 1236h17M1171.5 1331h17" stroke="#000" stroke-width="4" stroke-linecap="round" fill="none"/>
<path d="M1237.15 1223.5V1310M1228.65 1223.5h17M1228.65 1310h17" stroke="#000" stroke-width="4" stroke-linecap="round" fill="none"/>
<path d="M1373.15 1308V1438.5M1364.65 1308h17M1364.65 1438.5h17" stroke="#000" stroke-width="4" stroke-linecap="round" fill="none"/>
<path d="M1430.75 1257V1339.5M1422.25 1257h17M1422.25 1339.5h17" stroke="#000" stroke-width="4" stroke-linecap="round" fill="none"/>
<path d="M145.4 770V1587" stroke="#000" stroke-width="7.8" stroke-linecap="round" fill="none"/>
<path d="M144.6 1306.3H1528" stroke="#000" stroke-width="8" stroke-linecap="round" fill="none"/>
<path d="M146.5 1135.75H163.5" stroke="#000" stroke-width="7" stroke-linecap="round" fill="none"/>
<path d="M146.5 965.0H163.5" stroke="#000" stroke-width="7" stroke-linecap="round" fill="none"/>
<text transform="translate(119.5 1314.5) scale(1 1.04)" font-size="48" font-weight="normal" font-style="normal" text-anchor="end" >0</text>
<text transform="translate(119.5 1142.55) scale(1 1.04)" font-size="48" font-weight="normal" font-style="normal" text-anchor="end" >1</text>
<text transform="translate(119.5 971.8) scale(1 1.04)" font-size="48" font-weight="normal" font-style="normal" text-anchor="end" >2</text>
<text transform="translate(59 1104) rotate(-90)" font-size="56.4" font-weight="normal" text-anchor="middle">Rating change (a.u.)</text>
<rect x="1256.0" y="868.75" width="56" height="57.25" fill="#f5a03d" stroke="#000" stroke-width="4"/>
<rect x="1256.0" y="975.0" width="56" height="57.25" fill="#435774" stroke="#000" stroke-width="4"/>
<text transform="translate(1337 917.5) scale(1 1.045)" font-size="48.5" font-weight="normal" font-style="normal" text-anchor="start" >MHI</text>
<text x="1337" y="1023.7" font-size="48.5" font-weight="normal" font-style="normal" text-anchor="start" >Control</text>
<text x="239.9" y="839.56" font-size="81" font-weight="bold" font-style="normal" text-anchor="middle" >*</text>
<text x="415.73" y="955.81" font-size="81" font-weight="bold" font-style="normal" text-anchor="middle" >*</text>
<text x="457.48" y="955.81" font-size="81" font-weight="bold" font-style="normal" text-anchor="middle" >*</text>
<text x="635.0" y="1046.81" font-size="81" font-weight="bold" font-style="normal" text-anchor="middle" >*</text>
<text x="1018.5" y="1087.31" font-size="81" font-weight="bold" font-style="normal" text-anchor="middle" >*</text>
<text x="243" y="1498.6" font-size="48.8" font-weight="normal" font-style="normal" text-anchor="middle" >less</text>
<text x="243" y="1556.2" font-size="48.8" font-weight="normal" font-style="normal" text-anchor="middle" >natural</text>
<text x="435" y="1556.2" font-size="48.8" font-weight="normal" font-style="normal" text-anchor="middle" >stiffer</text>
<text x="627" y="1556.2" font-size="48.8" font-weight="normal" font-style="normal" text-anchor="middle" >heavier</text>
<text x="818" y="1556.2" font-size="48.8" font-weight="normal" font-style="normal" text-anchor="middle" >harder</text>
<text x="1013" y="1498.6" font-size="48.8" font-weight="normal" font-style="normal" text-anchor="middle" >less</text>
<text x="1013" y="1556.2" font-size="48.8" font-weight="normal" font-style="normal" text-anchor="middle" >sensitive</text>
<text x="1201" y="1556.2" font-size="48.8" font-weight="normal" font-style="normal" text-anchor="middle" >larger</text>
<text x="1393" y="1556.2" font-size="48.8" font-weight="normal" font-style="normal" text-anchor="middle" >colder</text>
<text transform="translate(128.3 1815.6) scale(1 1.02)" font-size="59" font-weight="bold" font-style="normal" text-anchor="start" >Skin response (GSR)</text>
<rect x="206.5" y="2066.5" width="101.89999999999998" height="281.9000000000001" fill="#f5a03d" stroke="#000" stroke-width="4"/>
<rect x="308.4" y="1947.0" width="102.60000000000002" height="401.4000000000001" fill="#f5a03d" stroke="#000" stroke-width="4"/>
<rect x="457.0" y="2119.7" width="102" height="228.70000000000027" fill="#435774" stroke="#000" stroke-width="4"/>
<rect x="559.0" y="2122.2" width="102" height="226.20000000000027" fill="#435774" stroke="#000" stroke-width="4"/>
<path d="M257.5 2044.5V2089.25M245.25 2044.5h24.5M245.25 2089.25h24.5" stroke="#000" stroke-width="4" stroke-linecap="round" fill="none"/>
<path d="M360 1922.5V1969.5M347.75 1922.5h24.5M347.75 1969.5h24.5" stroke="#000" stroke-width="4" stroke-linecap="round" fill="none"/>
<path d="M502.5 2102V2136M490.25 2102h24.5M490.25 2136h24.5" stroke="#000" stroke-width="4" stroke-linecap="round" fill="none"/>
<path d="M610 2102V2145M597.75 2102h24.5M597.75 2145h24.5" stroke="#000" stroke-width="4" stroke-linecap="round" fill="none"/>
<path d="M146 1866V2350.4H710" stroke="#000" stroke-width="8" stroke-linecap="round" stroke-linejoin="round" fill="none"/>
<path d="M146 2250.3H163" stroke="#000" stroke-width="7.8" stroke-linecap="round" fill="none"/>
<path d="M146 2150.2000000000003H163" stroke="#000" stroke-width="7.8" stroke-linecap="round" fill="none"/>
<path d="M146 2050.1000000000004H163" stroke="#000" stroke-width="7.8" stroke-linecap="round" fill="none"/>
<path d="M146 1950.0H163" stroke="#000" stroke-width="7.8" stroke-linecap="round" fill="none"/>
<text transform="translate(126 1963.75) scale(1 1.045)" font-size="48" font-weight="normal" font-style="normal" text-anchor="end" >.8</text>
<text transform="translate(126 2161.25) scale(1 1.045)" font-size="48" font-weight="normal" font-style="normal" text-anchor="end" >.4</text>
<text transform="translate(119.5 2358.75) scale(1 1.045)" font-size="48" font-weight="normal" font-style="normal" text-anchor="end" >0</text>
<text transform="translate(58.5 2105.5) rotate(-90)" font-size="56.7" font-weight="normal" text-anchor="middle">GSR (µS)</text>
<text x="286.62" y="1924.31" font-size="81" font-weight="bold" font-style="normal" text-anchor="middle" >*</text>
<text x="328.38" y="1924.31" font-size="81" font-weight="bold" font-style="normal" text-anchor="middle" >*</text>
<text x="254" y="2405" font-size="48.8" font-weight="normal" font-style="normal" text-anchor="middle" >pre</text>
<text x="359.5" y="2405" font-size="48.8" font-weight="normal" font-style="normal" text-anchor="middle" >post</text>
<text x="505" y="2405" font-size="48.8" font-weight="normal" font-style="normal" text-anchor="middle" >pre</text>
<text x="610.5" y="2405" font-size="48.8" font-weight="normal" font-style="normal" text-anchor="middle" >post</text>
<text transform="translate(310 2483.2) scale(1 1.04)" font-size="57" font-weight="normal" font-style="normal" text-anchor="middle" >MHI</text>
<text x="557" y="2483.2" font-size="57" font-weight="normal" font-style="normal" text-anchor="middle" >Control</text>
<text transform="translate(965.3 1815.5) scale(1 1.03)" font-size="59.1" font-weight="bold" font-style="normal" text-anchor="start" >Stiffness VS GSR</text>
<path d="M1191.2 1899.5V2315" stroke="#dedfb7" stroke-width="7" stroke-linecap="round" stroke-dasharray="12.75 24" fill="none"/>
<path d="M965.5 2226.75H1494" stroke="#dedfb7" stroke-width="7" stroke-linecap="round" stroke-dasharray="12.75 24" fill="none"/>
<path d="M1029.5 2265.00L1471 2011.14" stroke="#f5a03d" stroke-width="7" stroke-linecap="round" fill="none"/>
<path d="M1029.5 2265.00L950 2310.71" stroke="#f5a03d" stroke-width="7" stroke-linecap="round" stroke-dasharray="16 24.3" stroke-dashoffset="-24.3" fill="none"/>
<path d="M1471 2011.14L1550 1965.71" stroke="#f5a03d" stroke-width="7" stroke-linecap="round" stroke-dasharray="16 24.3" stroke-dashoffset="-24.3" fill="none"/>
<circle cx="1035.6" cy="2201.6" r="10.6" fill="#f5a03d" stroke="#000" stroke-width="4"/>
<circle cx="1112.5" cy="2219" r="10.6" fill="#f5a03d" stroke="#000" stroke-width="4"/>
<circle cx="1191.2" cy="2225" r="15.6" fill="#f5a03d" stroke="#000" stroke-width="4"/>
<circle cx="1268.5" cy="2229" r="10.6" fill="#f5a03d" stroke="#000" stroke-width="4"/>
<circle cx="1268.5" cy="2140" r="10.6" fill="#f5a03d" stroke="#000" stroke-width="4"/>
<circle cx="1267.3" cy="2061" r="15.6" fill="#f5a03d" stroke="#000" stroke-width="4"/>
<circle cx="1346.6" cy="1937" r="10.6" fill="#f5a03d" stroke="#000" stroke-width="4"/>
<circle cx="1346.6" cy="2203.3" r="10.6" fill="#f5a03d" stroke="#000" stroke-width="4"/>
<circle cx="1424" cy="2030" r="10.6" fill="#f5a03d" stroke="#000" stroke-width="4"/>
<path d="M930.75 1866V2327.3" stroke="#000" stroke-width="7.8" stroke-linecap="round" fill="none"/>
<path d="M959 2350H1531.5" stroke="#000" stroke-width="8" stroke-linecap="round" fill="none"/>
<path d="M1035.7 2350V2332.6" stroke="#000" stroke-width="7.8" stroke-linecap="round" fill="none"/>
<path d="M1191.2 2350V2332.6" stroke="#000" stroke-width="7.8" stroke-linecap="round" fill="none"/>
<path d="M1346.7 2350V2332.6" stroke="#000" stroke-width="7.8" stroke-linecap="round" fill="none"/>
<path d="M1502.2 2350V2332.6" stroke="#000" stroke-width="7.8" stroke-linecap="round" fill="none"/>
<path d="M930.75 2226.75H948.2" stroke="#000" stroke-width="7.8" stroke-linecap="round" fill="none"/>
<path d="M930.75 2081.99H948.2" stroke="#000" stroke-width="7.8" stroke-linecap="round" fill="none"/>
<path d="M930.75 1937.23H948.2" stroke="#000" stroke-width="7.8" stroke-linecap="round" fill="none"/>
<text transform="translate(907 1942.5) scale(1 1.045)" font-size="48" font-weight="normal" font-style="normal" text-anchor="end" >.8</text>
<text transform="translate(907 2087.5) scale(1 1.045)" font-size="48" font-weight="normal" font-style="normal" text-anchor="end" >.4</text>
<text transform="translate(913.2 2232.5) scale(1 1.045)" font-size="48" font-weight="normal" font-style="normal" text-anchor="end" >0</text>
<text transform="translate(1023.7 2413) scale(1 1.04)" font-size="48.5" font-weight="normal" font-style="normal" text-anchor="middle" >–2</text>
<text transform="translate(1188.5 2413) scale(1 1.04)" font-size="48.5" font-weight="normal" font-style="normal" text-anchor="middle" >0</text>
<text transform="translate(1343.3 2413) scale(1 1.04)" font-size="48.5" font-weight="normal" font-style="normal" text-anchor="middle" >2</text>
<text transform="translate(1497.8 2413) scale(1 1.04)" font-size="48.5" font-weight="normal" font-style="normal" text-anchor="middle" >4</text>
<text x="968" y="2484.3" font-size="57" font-weight="normal" font-style="normal" text-anchor="start" >Stiffness change (a.u.)</text>
<text transform="translate(837.5 2105) rotate(-90)" font-size="57" font-weight="normal" text-anchor="middle">GSR change (µS)</text>
</svg>
</body>
</html>
